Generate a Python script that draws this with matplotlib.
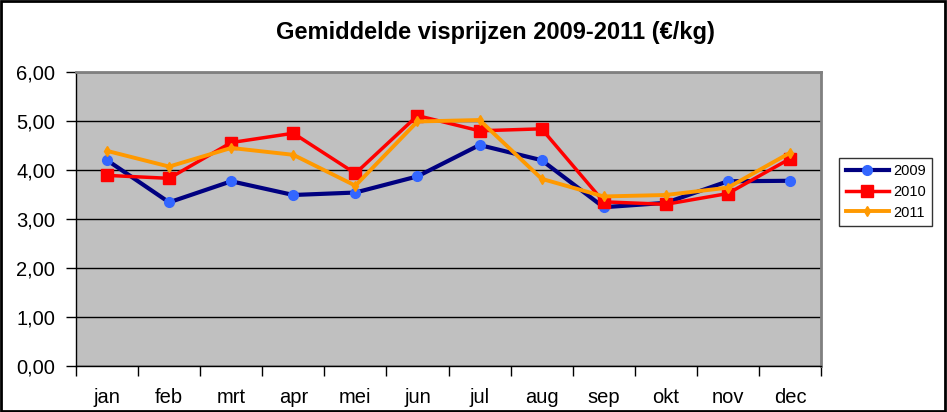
import numpy as np
import matplotlib.pyplot as plt
from matplotlib.patches import Rectangle

months = ["jan", "feb", "mrt", "apr", "mei", "jun", "jul", "aug", "sep", "okt", "nov", "dec"]
p2009 = [4.20, 3.34, 3.77, 3.49, 3.54, 3.87, 4.51, 4.20, 3.24, 3.33, 3.77, 3.78]
p2010 = [3.89, 3.83, 4.56, 4.75, 3.93, 5.11, 4.80, 4.84, 3.35, 3.30, 3.52, 4.23]
p2011 = [4.39, 4.07, 4.45, 4.31, 3.68, 4.99, 5.02, 3.82, 3.46, 3.49, 3.64, 4.35]
yticks = [0, 1, 2, 3, 4, 5, 6]

plt.rcParams["font.family"] = ["Liberation Sans", "DejaVu Sans"]

fig = plt.figure(figsize=(9.47, 4.12), dpi=100)
ax = fig.add_axes([76 / 947, 46 / 412, 745 / 947, 294 / 412])
ax.set_facecolor("#C0C0C0")

x = np.arange(len(months))
ax.plot(x, p2009, color="#000080", lw=3, marker="o", ms=7,
        mfc="#3366FF", mec="#3366FF", label="2009", zorder=3)
ax.plot(x, p2010, color="#FF0000", lw=2.5, marker="s", ms=8,
        mfc="#FF0000", mec="#FF0000", label="2010", zorder=4)
ax.plot(x, p2011, color="#FF9900", lw=2.8, marker="d", ms=5,
        mfc="#FF9900", mec="#FF9900", label="2011", zorder=5)

ax.set_xlim(-0.5, len(months) - 0.5)
ax.set_ylim(0, 6)
ax.set_yticks(yticks)
ax.set_yticklabels([f"{v:.2f}".replace(".", ",") for v in yticks], fontsize=14.5)
ax.yaxis.grid(True, color="black", lw=1)
ax.set_axisbelow(True)

ax.set_xticks(x)
ax.set_xticklabels(months, fontsize=14.5)
ax.tick_params(axis="x", length=0, pad=16)
ax.set_xticks(np.arange(-0.5, len(months)), minor=True)
ax.tick_params(axis="x", which="minor", length=7, width=1, color="black")
ax.tick_params(axis="y", length=7, width=1, color="black", pad=8)

for side in ("top", "right"):
    ax.spines[side].set_color("#808080")
    ax.spines[side].set_linewidth(2)
for side in ("left", "bottom"):
    ax.spines[side].set_color("black")
    ax.spines[side].set_linewidth(1)

fig.text(495 / 947, 1 - 32 / 412, "Gemiddelde visprijzen 2009-2011 (€/kg)",
         ha="center", va="center", fontsize=17, fontweight="bold")

leg = ax.legend(loc="center left", bbox_to_anchor=(839 / 947, 220 / 412),
                bbox_transform=fig.transFigure, frameon=True, fancybox=False,
                fontsize=10.5, handlelength=3.0, handletextpad=0.25,
                borderpad=0.45, labelspacing=0.45, borderaxespad=0)
leg.get_frame().set_edgecolor("black")
leg.get_frame().set_linewidth(1)

fig.patches.append(Rectangle((0.001, 0.002), 0.997, 0.996, transform=fig.transFigure,
                             fill=False, edgecolor="black", lw=2))

fig.savefig("out.png", dpi=100)
